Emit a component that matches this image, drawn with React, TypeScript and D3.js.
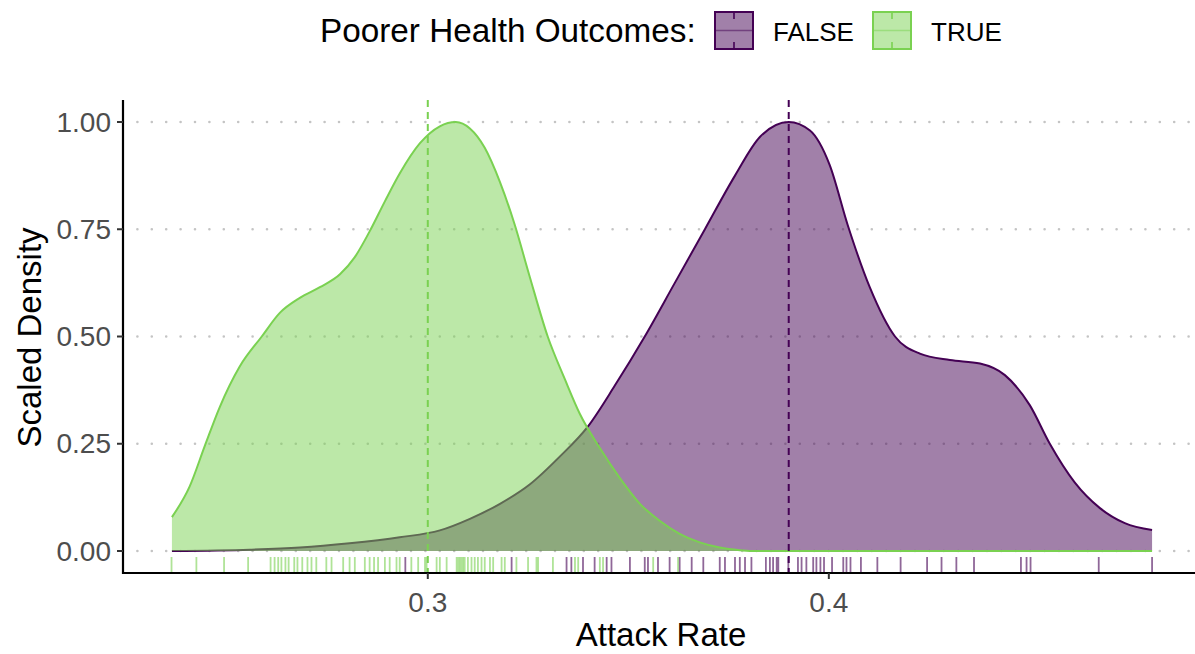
import React from "react";
import * as d3 from "d3";

// Scaled density of attack rate, by group
const trueX = [0.2362, 0.2406, 0.2444, 0.2481, 0.2531, 0.2586, 0.2631, 0.2681, 0.2731, 0.2781, 0.2818, 0.2855, 0.2893, 0.293, 0.298, 0.303, 0.307, 0.3105, 0.3142, 0.318, 0.3217, 0.3254, 0.3299, 0.3342, 0.3379, 0.3429, 0.3479, 0.3529, 0.3579, 0.3628, 0.3678, 0.3728, 0.3778, 0.3828, 0.4, 0.44, 0.4806];
const trueDensity = [0.079, 0.15, 0.245, 0.335, 0.43, 0.5, 0.555, 0.59, 0.615, 0.645, 0.685, 0.745, 0.815, 0.88, 0.95, 0.99, 1.0, 0.985, 0.94, 0.86, 0.76, 0.64, 0.5, 0.4, 0.32, 0.24, 0.17, 0.11, 0.07, 0.04, 0.02, 0.008, 0.002, 0.0, 0.0, 0.0, 0.0];

const falseX = [0.2362, 0.2556, 0.2681, 0.2805, 0.293, 0.303, 0.3105, 0.318, 0.3254, 0.3329, 0.3399, 0.3466, 0.3541, 0.3616, 0.3691, 0.3766, 0.3828, 0.39, 0.3953, 0.4002, 0.4047, 0.4102, 0.4165, 0.4227, 0.4302, 0.4377, 0.4439, 0.4501, 0.4551, 0.4613, 0.4676, 0.4738, 0.4806];
const falseDensity = [0.0, 0.003, 0.008, 0.018, 0.032, 0.048, 0.075, 0.11, 0.155, 0.22, 0.29, 0.385, 0.5, 0.625, 0.75, 0.875, 0.965, 1.0, 0.98, 0.9, 0.76, 0.615, 0.5, 0.46, 0.445, 0.437, 0.41, 0.34, 0.25, 0.16, 0.1, 0.065, 0.049];

// Individual observations (rug)
const rugTrue = [0.2361, 0.2423, 0.2492, 0.2552, 0.2608, 0.2618, 0.2627, 0.2635, 0.2645, 0.2653, 0.2667, 0.2675, 0.2687, 0.27, 0.271, 0.2722, 0.2747, 0.276, 0.2789, 0.2805, 0.2818, 0.2843, 0.2855, 0.2866, 0.2876, 0.2893, 0.2905, 0.2922, 0.293, 0.2959, 0.2976, 0.2993, 0.2997, 0.3022, 0.303, 0.3047, 0.3072, 0.3076, 0.308, 0.3084, 0.3088, 0.3092, 0.31, 0.3109, 0.3117, 0.3125, 0.3134, 0.3142, 0.3155, 0.3163, 0.3184, 0.3192, 0.3221, 0.325, 0.3271, 0.3275, 0.3312, 0.3367, 0.3375, 0.3429, 0.3437, 0.3562, 0.3624];
const rugFalse = [0.2944, 0.3209, 0.3346, 0.3358, 0.3387, 0.3416, 0.3446, 0.3458, 0.3504, 0.3541, 0.3549, 0.3574, 0.3603, 0.3628, 0.3658, 0.3687, 0.3728, 0.3741, 0.3766, 0.3778, 0.3791, 0.3807, 0.3843, 0.3853, 0.3861, 0.387, 0.3874, 0.3899, 0.3923, 0.3932, 0.3944, 0.3961, 0.3969, 0.3979, 0.3988, 0.4008, 0.4036, 0.4044, 0.4054, 0.408, 0.4121, 0.4179, 0.4245, 0.4281, 0.4318, 0.4362, 0.4479, 0.4493, 0.4503, 0.4673, 0.4806];

// Group medians (dashed reference lines)
const medianTrue = 0.3;
const medianFalse = 0.39;

const groupLabels = ["FALSE", "TRUE"];
const groupColors = ["#440154", "#7AD151"];
const xTicks = [0.3, 0.4];
const yTicks = [0, 0.25, 0.5, 0.75, 1];

const FONT = "'Liberation Sans', Arial, Helvetica, sans-serif";

export default function App() {
  const W = 1195;
  const H = 654;
  const left = 123;
  const right = 1201;
  const top = 100;
  const bottom = 573;

  const x = d3.scaleLinear().domain([0.224, 0.4928]).range([left, right]);
  const y = d3.scaleLinear().domain([0, 1]).range([551, 122]);

  const groups = [
    { xs: falseX, ds: falseDensity, rug: rugFalse, median: medianFalse, color: groupColors[0] },
    { xs: trueX, ds: trueDensity, rug: rugTrue, median: medianTrue, color: groupColors[1] },
  ];

  const area = d3
    .area<[number, number]>()
    .x((d) => x(d[0]))
    .y0(y(0))
    .y1((d) => y(d[1]))
    .curve(d3.curveMonotoneX);
  const line = d3
    .line<[number, number]>()
    .x((d) => x(d[0]))
    .y((d) => y(d[1]))
    .curve(d3.curveMonotoneX);

  const fmtY = d3.format(".2f");

  // legend layout
  const keyW = 38;
  const keyH = 37;
  const keyY = 12;
  const keyXs = [715, 873];
  const labelXs = [773, 931];

  return (
    <svg
      width={W}
      height={H}
      viewBox={`0 0 ${W} ${H}`}
      style={{ position: "absolute", left: 0, top: 0, display: "block", background: "#fff" }}
      fontFamily={FONT}
    >
      <defs>
        <clipPath id="panel">
          <rect x={left} y={top} width={W - left} height={bottom - top} />
        </clipPath>
      </defs>

      {/* dotted horizontal grid */}
      {yTicks.map((t) => (
        <line
          key={"g" + t}
          x1={left}
          x2={W}
          y1={y(t)}
          y2={y(t)}
          stroke="#C4C4C4"
          strokeWidth={2.6}
          strokeDasharray="0 14.4"
          strokeLinecap="round"
        />
      ))}

      <g clipPath="url(#panel)">
        {groups.map((g, i) => {
          const pts = g.xs.map((v, j) => [v, g.ds[j]] as [number, number]);
          return (
            <g key={"d" + i}>
              <path d={area(pts) || ""} fill={g.color} fillOpacity={0.5} />
              <path d={line(pts) || ""} fill="none" stroke={g.color} strokeWidth={2} />
            </g>
          );
        })}

        {/* rugs */}
        {groups.map((g, i) =>
          g.rug.map((v, j) => (
            <line
              key={"r" + i + "-" + j}
              x1={x(v)}
              x2={x(v)}
              y1={557}
              y2={bottom}
              stroke={g.color}
              strokeOpacity={0.6}
              strokeWidth={1.8}
            />
          ))
        )}

        {/* medians */}
        {groups.map((g, i) => (
          <line
            key={"m" + i}
            x1={x(g.median)}
            x2={x(g.median)}
            y1={top}
            y2={bottom}
            stroke={g.color}
            strokeWidth={2}
            strokeDasharray="7 5"
          />
        ))}
      </g>

      {/* axes */}
      <line x1={left} x2={left} y1={top} y2={bottom + 1} stroke="#000" strokeWidth={2.2} />
      <line x1={left - 1} x2={W} y1={bottom} y2={bottom} stroke="#000" strokeWidth={2.2} />

      {yTicks.map((t) => (
        <g key={"yt" + t}>
          <line x1={left - 6} x2={left} y1={y(t)} y2={y(t)} stroke="#333" strokeWidth={2} />
          <text
            x={left - 12}
            y={y(t)}
            textAnchor="end"
            dominantBaseline="central"
            fontSize={28}
            fill="#4D4D4D"
          >
            {fmtY(t)}
          </text>
        </g>
      ))}

      {xTicks.map((t) => (
        <g key={"xt" + t}>
          <line x1={x(t)} x2={x(t)} y1={bottom} y2={bottom + 6} stroke="#333" strokeWidth={2} />
          <text x={x(t)} y={bottom + 39} textAnchor="middle" fontSize={28} fill="#4D4D4D">
            {String(t)}
          </text>
        </g>
      ))}

      <text x={(left + W) / 2 + 2} y={646} textAnchor="middle" fontSize={33} fill="#000">
        Attack Rate
      </text>
      <text
        transform={`translate(41, ${(top + bottom) / 2 + 1}) rotate(-90)`}
        textAnchor="middle"
        fontSize={33}
        fill="#000"
      >
        Scaled Density
      </text>

      {/* legend */}
      <text x={320} y={42} fontSize={33.3} fill="#000">
        Poorer Health Outcomes:
      </text>
      {groupLabels.map((lab, i) => (
        <g key={"lg" + i}>
          <rect
            x={keyXs[i]}
            y={keyY}
            width={keyW}
            height={keyH}
            fill={groupColors[i]}
            fillOpacity={0.5}
            stroke={groupColors[i]}
            strokeWidth={2}
          />
          <line
            x1={keyXs[i]}
            x2={keyXs[i] + keyW}
            y1={keyY + keyH / 2}
            y2={keyY + keyH / 2}
            stroke={groupColors[i]}
            strokeOpacity={0.5}
            strokeWidth={1.6}
          />
          <line
            x1={keyXs[i] + keyW / 2}
            x2={keyXs[i] + keyW / 2}
            y1={keyY}
            y2={keyY + keyH}
            stroke={groupColors[i]}
            strokeWidth={1.6}
            strokeDasharray="7 23"
          />
          <text x={labelXs[i]} y={41} fontSize={26} fill="#000">
            {lab}
          </text>
        </g>
      ))}
    </svg>
  );
}
